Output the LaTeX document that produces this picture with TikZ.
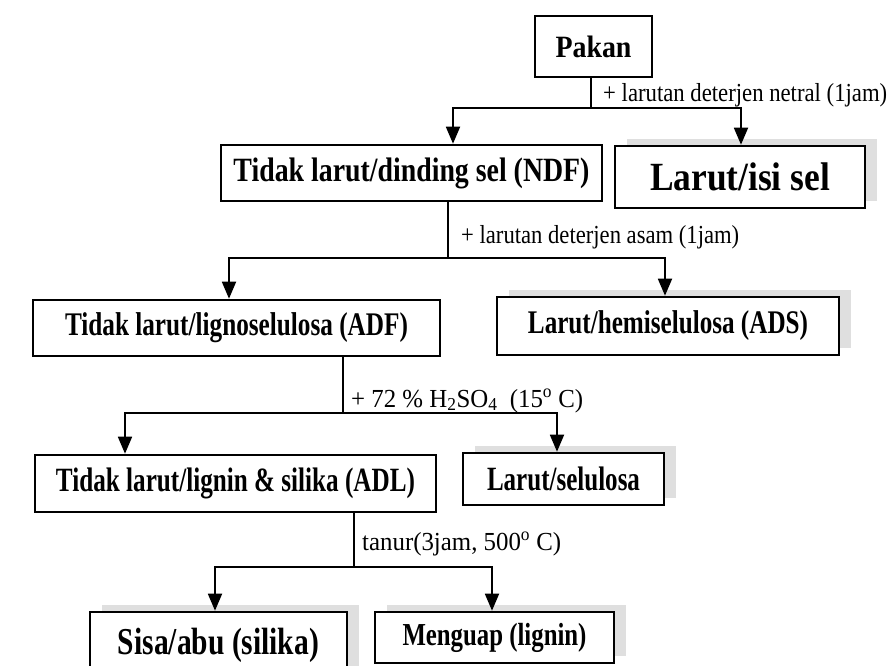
\documentclass[tikz,border=0pt]{standalone}
\usepackage{fontspec}
\setmainfont{Liberation Serif}
\usetikzlibrary{arrows.meta,shadows}
\newcommand{\fitt}[3]{\resizebox{#2pt}{\height}{\fontsize{#1pt}{#1pt}\selectfont #3}}
\begin{document}
\begin{tikzpicture}[x=1pt,y=-1pt,
  box/.style={draw, line width=2.6pt, fill=white, inner sep=0pt, font=\bfseries},
  shad/.style={drop shadow={shadow xshift=12pt, shadow yshift=7pt, fill=gray!25, opacity=1}},
  conn/.style={line width=1.8pt},
  arr/.style={conn, -{Triangle[width=14pt,length=17pt]}},
  lab/.style={inner sep=0pt, anchor=base west}]
\useasboundingbox[fill=white] (0,0) rectangle (888,666);

% boxes
\node[box, minimum width=117pt, minimum height=61pt] (pakan) at (593.5,46.5) {\fitt{31}{76}{Pakan}};
\node[box, minimum width=381pt, minimum height=56pt] (ndf) at (411.5,173) {\fitt{34}{356}{Tidak larut/dinding sel (NDF)}};
\node[box, shad, minimum width=250pt, minimum height=62pt] (isi) at (740,177) {\fitt{40}{180}{Larut/isi sel}};
\node[box, minimum width=407pt, minimum height=56pt] (adf) at (236.5,328) {\fitt{33}{343}{Tidak larut/lignoselulosa (ADF)}};
\node[box, shad, minimum width=342pt, minimum height=58pt] (ads) at (668,326) {\fitt{33}{280}{Larut/hemiselulosa (ADS)}};
\node[box, minimum width=401pt, minimum height=57pt] (adl) at (235.5,483.5) {\fitt{34}{359}{Tidak larut/lignin \& silika (ADL)}};
\node[box, shad, minimum width=201pt, minimum height=52pt] (sel) at (563.5,479) {\fitt{34}{153}{Larut/selulosa}};
\node[box, shad, minimum width=257pt, minimum height=66pt] (sisa) at (218.5,645) {\fitt{38}{201}{Sisa/abu (silika)}};
\node[box, shad, minimum width=239pt, minimum height=51pt] (meng) at (494.5,637.5) {\fitt{32}{184}{Menguap (lignin)}};

% junction points
\coordinate (j1) at (591,108);  \coordinate (j1L) at (453,108); \coordinate (j1R) at (741,108);
\coordinate (j2) at (448,258);  \coordinate (j2L) at (229,258); \coordinate (j2R) at (665,258);
\coordinate (j3) at (343,413);  \coordinate (j3L) at (125,413); \coordinate (j3R) at (557,413);
\coordinate (j4) at (354,567);  \coordinate (j4L) at (215,567); \coordinate (j4R) at (492,567);

% connectors
\draw[conn] (pakan.south -| j1) -- (j1);
\draw[arr] (j1) -- (j1L) -- (j1L |- ndf.north);
\draw[arr] (j1) -- (j1R) -- (j1R |- isi.north);

\draw[conn] (ndf.south -| j2) -- (j2);
\draw[arr] (j2) -- (j2L) -- (j2L |- adf.north);
\draw[arr] (j2) -- (j2R) -- (j2R |- ads.north);

\draw[conn] (adf.south -| j3) -- (j3);
\draw[arr] (j3) -- (j3L) -- (j3L |- adl.north);
\draw[arr] (j3) -- (j3R) -- (j3R |- sel.north);

\draw[conn] (adl.south -| j4) -- (j4);
\draw[arr] (j4) -- (j4L) -- (j4L |- sisa.north);
\draw[arr] (j4) -- (j4R) -- (j4R |- meng.north);

% labels
\node[lab] (l1) at (603,102) {\fitt{26}{284}{+ larutan deterjen netral (1jam)}};
\node[lab] (l2) at (461,243) {\fitt{26}{278}{+ larutan deterjen asam (1jam)}};
\node[lab] (l3) at (351,407) {\fitt{26}{232}{+ 72 \% H\textsubscript{2}SO\textsubscript{4}\ \ (15\textsuperscript{o} C)}};
\node[lab] (l4) at (362,550) {\fitt{26}{199}{tanur(3jam, 500\textsuperscript{o} C)}};
\end{tikzpicture}
\end{document}
